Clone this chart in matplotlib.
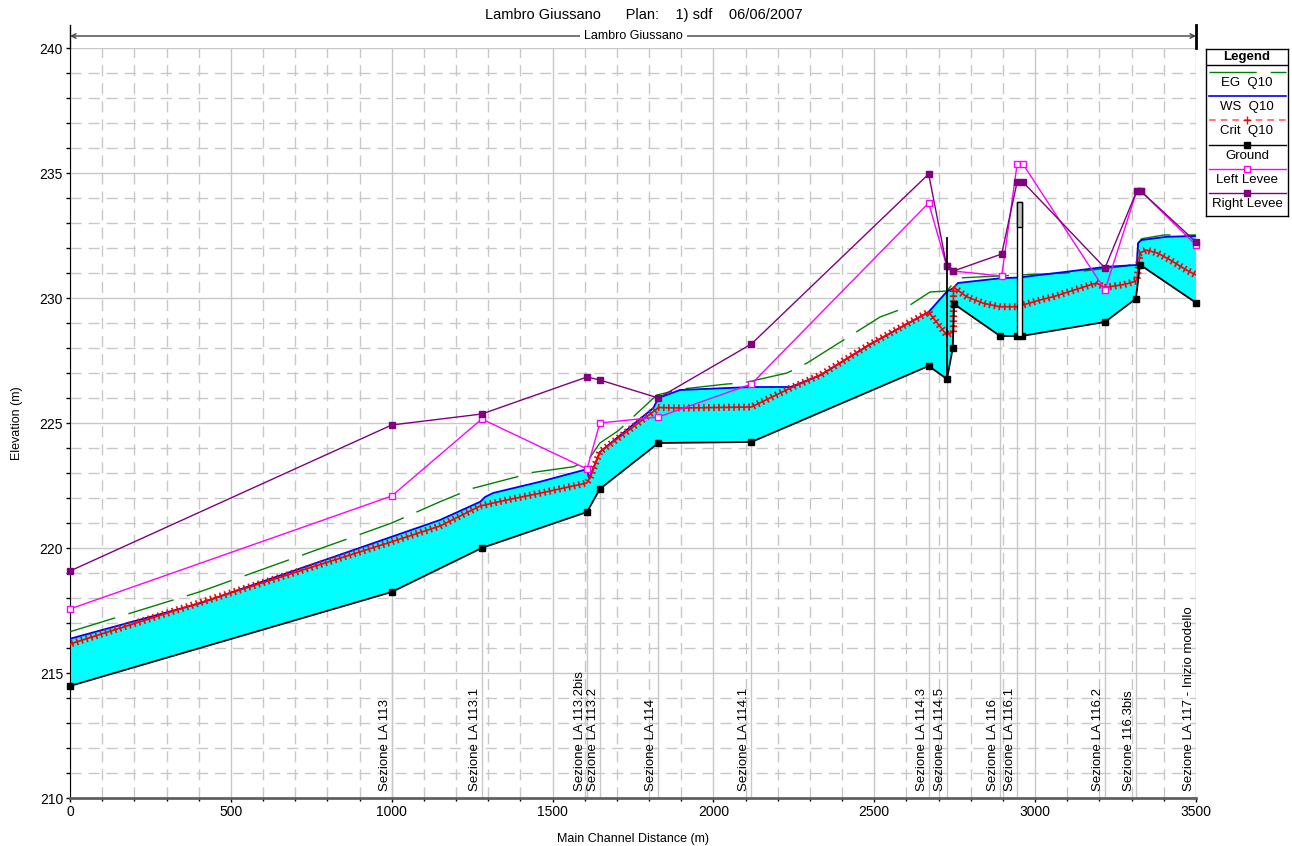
import numpy as np
import matplotlib.pyplot as plt
from matplotlib import patheffects
from matplotlib.patches import Rectangle

plt.rcParams['font.family'] = ['Liberation Sans', 'DejaVu Sans']

# main channel distance (m) / elevation (m)
ground_x = [0, 1000, 1280, 1607, 1647, 1829, 2118, 2669, 2726, 2744, 2748,
            2891, 2943, 2958, 3217, 3313, 3326, 3500]
ground_z = [214.48, 218.24, 220.0, 221.44, 222.36, 224.2, 224.24, 227.28, 226.76,
            228.0, 229.76, 228.48, 228.48, 228.48, 229.04, 229.97, 231.33, 229.81]

ws_x = [0, 404, 1000, 1150, 1275, 1290, 1315, 1461, 1606, 1614, 1647, 1813, 1829,
        1896, 2118, 2240, 2333, 2487, 2669, 2725, 2746, 2760, 2891, 2950, 3015,
        3098, 3222, 3316, 3320, 3331, 3409, 3500]
ws_z = [216.37, 217.79, 220.45, 221.12, 221.85, 222.04, 222.2, 222.65, 223.15, 222.8,
        223.84, 225.6, 226.0, 226.32, 226.44, 226.44, 226.92, 228.15, 229.44, 230.25,
        230.4, 230.6, 230.79, 230.82, 230.92, 231.05, 231.25, 231.32, 232.2, 232.32,
        232.45, 232.48]

crit_x = [0, 1000, 1150, 1275, 1357, 1461, 1606, 1616, 1647, 1813, 1829, 1900, 2118,
          2240, 2333, 2487, 2669, 2725, 2746, 2746, 2787, 2839, 2891, 2943, 3015,
          3056, 3190, 3217, 3280, 3316, 3326, 3345, 3380, 3420, 3470, 3500]
crit_z = [216.16, 220.25, 220.88, 221.68, 221.92, 222.19, 222.6, 222.79, 223.84,
          225.45, 225.62, 225.6, 225.64, 226.4, 226.92, 228.15, 229.44, 228.52, 228.65,
          230.44, 230.05, 229.79, 229.65, 229.65, 229.92, 230.05, 230.6, 230.42, 230.55,
          230.69, 231.8, 231.92, 231.8, 231.52, 231.12, 230.92]

eg_x = [0, 404, 1000, 1150, 1250, 1390, 1420, 1565, 1610, 1647, 1704, 1746, 1824,
        1903, 2042, 2092, 2229, 2291, 2518, 2602, 2673, 2725, 2760, 2950, 3098, 3283,
        3316, 3320, 3331, 3400, 3500]
eg_z = [216.65, 218.25, 221.0, 221.85, 222.38, 222.85, 222.99, 223.25, 223.5, 224.2,
        224.69, 225.19, 226.12, 226.36, 226.56, 226.6, 227.0, 227.4, 229.24, 229.64,
        230.24, 230.28, 230.8, 230.92, 231.0, 231.28, 231.4, 232.19, 232.37, 232.52,
        232.52]

levee_x = [0, 1000, 1280, 1607, 1647, 1829, 2118, 2669, 2725, 2746, 2896, 2944, 2962,
           3217, 3316, 3328, 3500]
left_levee = [217.56, 222.08, 225.16, 223.16, 225.0, 225.24, 226.56, 233.8, 231.28,
              231.08, 230.88, 235.36, 235.36, 230.32, 234.28, 234.28, 232.12]
right_levee = [219.08, 224.92, 225.36, 226.84, 226.72, 226.0, 228.16, 234.96, 231.28,
               231.08, 231.76, 234.64, 234.64, 231.2, 234.28, 234.28, 232.24]

section_x = [1000, 1280, 1607, 1647, 1829, 2118, 2669, 2725, 2891, 2943, 3217, 3313, 3500]
section_ground = [218.24, 220.0, 221.44, 222.36, 224.2, 224.24, 227.28, 226.76,
                  228.48, 228.48, 229.04, 229.97, 229.81]
section_names = ['Sezione LA 113', 'Sezione LA 113.1', 'Sezione LA 113.2bis',
                 'Sezione LA 113.2', 'Sezione LA 114', 'Sezione LA 114.1',
                 'Sezione LA 114.3', 'Sezione LA 114.5', 'Sezione LA 116',
                 'Sezione LA 116.1', 'Sezione LA 116.2', 'Sezione 116.3bis',
                 'Sezione LA 117 - Inizio modello']

# bridge deck line and inline structure
bridge_x = 2725
bridge_top = 232.4
weir_x = [2943, 2958]
weir_top = 233.85
gate_bottom = 232.85

fig = plt.figure(figsize=(12.92, 8.46), dpi=100)
ax = fig.add_axes([70 / 1292, 1 - 798 / 846, 1126 / 1292, 750 / 846])
ax.set_xlim(0, 3500)
ax.set_ylim(210, 240)

ax.set_xticks(np.arange(0, 3501, 500))
ax.set_xticks(np.arange(0, 3501, 100), minor=True)
ax.set_yticks(np.arange(210, 241, 5))
ax.set_yticks(np.arange(210, 241, 1), minor=True)
ax.grid(which='major', color='#c8c8c8', lw=1, ls='-')
ax.grid(which='minor', color='#c8c8c8', lw=1, ls=(0, (8, 5)))
ax.set_axisbelow(True)
ax.tick_params(which='both', labelsize=10, length=3, width=1, color='black', pad=2)
ax.tick_params(axis='x', which='minor', length=2.5)
for s in ['top', 'right']:
    ax.spines[s].set_visible(False)
ax.spines['bottom'].set_color('#606060')
ax.spines['bottom'].set_linewidth(2)
ax.set_xlabel('Main Channel Distance (m)', fontsize=9, labelpad=10)
ax.set_ylabel('Elevation (m)', fontsize=9, labelpad=12)

# section lines and names
ax.vlines(section_x, 210, section_ground, color='#c8c8c8', lw=1, zorder=1.5)
for sx, name in zip(section_x, section_names):
    ax.text(sx - 3, 210.3, name, rotation=90, ha='right', va='bottom', fontsize=9.5)

# water area
poly_x = np.concatenate([ground_x, ws_x[::-1]])
poly_z = np.concatenate([ground_z, ws_z[::-1]])
ax.fill(poly_x, poly_z, color='#00ffff', lw=0, zorder=2)

ax.plot(eg_x, eg_z, color='#008000', lw=1, ls=(0, (34, 10)), zorder=3)
ax.plot(ws_x, ws_z, color='#0000ff', lw=1.3, zorder=3)
ax.plot(crit_x, crit_z, color='#ff0000', lw=1.2, zorder=4)
ticks = [patheffects.TickedStroke(spacing=3.6, angle=a, length=0.55, linewidth=1.2)
         for a in (90, -90)]
ax.plot(crit_x, crit_z, color='#ff0000', lw=1.2, zorder=4, path_effects=ticks)

ax.plot(ground_x, ground_z, color='black', lw=1.3, marker='s', ms=4.5, zorder=5,
        clip_on=False)
ax.plot(levee_x, left_levee, color='#ff00ff', lw=1, marker='s', ms=5, mfc='white',
        mec='#ff00ff', zorder=5, clip_on=False)
ax.plot(levee_x, right_levee, color='#800080', lw=1, marker='s', ms=5, zorder=5,
        clip_on=False)

ax.plot([bridge_x, bridge_x], [ground_z[8], bridge_top], color='black', lw=1.3, zorder=6)
ax.add_patch(Rectangle((weir_x[0], 228.48), weir_x[1] - weir_x[0], weir_top - 228.48,
                       fc='white', ec='black', lw=1, zorder=6))
ax.add_patch(Rectangle((weir_x[0], gate_bottom), weir_x[1] - weir_x[0],
                       weir_top - gate_bottom, fc='#c0c0c0', ec='black', lw=1, zorder=6))

# reach bar above the plot
ax.annotate('', xy=(0, 240.48), xytext=(3500, 240.48), annotation_clip=False,
            arrowprops=dict(arrowstyle='<->', color='#404040', lw=1,
                            shrinkA=0, shrinkB=0, mutation_scale=8))
ax.plot([0, 0], [240, 240.92], color='black', lw=1, clip_on=False)
ax.plot([3500, 3500], [240, 240.92], color='black', lw=2, clip_on=False)
ax.text(1750, 240.48, 'Lambro Giussano', ha='center', va='center', fontsize=9,
        bbox=dict(fc='white', ec='none', pad=3))

fig.text(644 / 1292, 1 - 15 / 846, 'Lambro Giussano      Plan:    1) sdf    06/06/2007',
         ha='center', va='center', fontsize=10.5)

# legend box
lg = fig.add_axes([1206 / 1292, 1 - 216 / 846, 82 / 1292, 167 / 846])
lg.set_xlim(0, 82)
lg.set_ylim(167, 0)
lg.set_xticks([])
lg.set_yticks([])
for s in lg.spines.values():
    s.set_linewidth(1)
lg.text(41, 8, 'Legend', ha='center', va='center', fontsize=9.5, fontweight='bold')
lg.axhline(16, color='black', lw=1)
entries = [('EG  Q10', dict(color='#008000', lw=1, ls=(0, (34, 10)))),
           ('WS  Q10', dict(color='#0000ff', lw=1.2)),
           ('Crit  Q10', dict(color='#ff6060', lw=1.2, ls=(0, (4, 3)), marker='+',
                              ms=6, mec='red', markevery=[1])),
           ('Ground', dict(color='black', lw=1, marker='s', ms=4.5, markevery=[1])),
           ('Left Levee', dict(color='#ff00ff', lw=1, marker='s', ms=5, mfc='white',
                               markevery=[1])),
           ('Right Levee', dict(color='#800080', lw=1, marker='s', ms=5, markevery=[1]))]
for i, (label, style) in enumerate(entries):
    y = 23 + i * 24.2
    lg.plot([3, 41, 80], [y, y, y], **style)
    lg.text(41, y + 11, label, ha='center', va='center', fontsize=9.5)

fig.savefig('out.png', dpi=100)
